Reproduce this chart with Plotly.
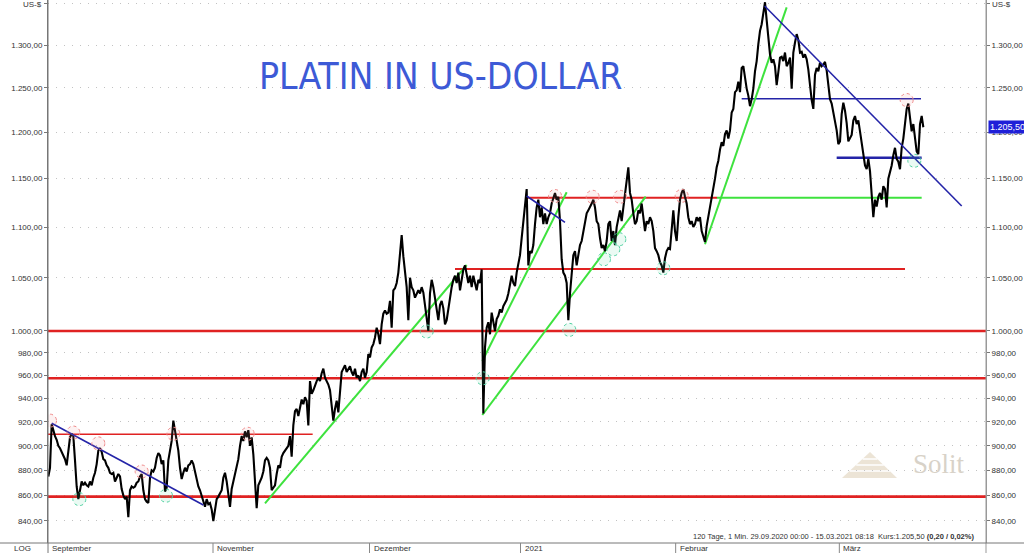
import numpy as np
import plotly.graph_objects as go

# ---------------- data ----------------
# platinum price, evenly spaced samples (index = sample slot)
price_part1 = [875,882,918,912,908,905,900,898,895,892,
               889,884,894,907,910,908,888,867,857,864,
               871,868,870,868,867,871,868,874,878,885,
               896,898,895,889,888,884,882,878,877,878,
               871,874,877,875,865,860,857,859,843,864,
               867,866,867,870,871,875,877,864,857,855,
               854,874,880,879,882,890,894,892,885,888,
               863,866,888,896,904,921,912,907,896,882,
               873,878,882,879,884,885,888,885,878,874,
               867,864,859,854,851,857,853,854,849,840,
               849,857,859,862,864,874,878,871,862,851,
               865,871,878,882,889,900,908,904,912,907,
               913,900,907,893,868,850,868,871,874,879,
               888,890,888,882,864,866,868,877,884,882]
price_part2 = [891,894,896,898,900,908,891,917,929,931,
               925,932,939,935,941,938,917,955,944,947,
               952,955,958,955,962,966,958,955,952,947,
               935,921,931,938,928,950,963,966,969,963,
               966,968,963,960,966,958,960,955,963,966,
               958,963,979,976,985,988,994,1003,997,988,
               1006,1016,1019,1016,1017,1028,1003,1038,1040,1045,
               1055,1075,1092,1071,1058,1041,1010,1050,1041,1038,
               1031,1035,1038,1035,1041,1036,1024,1010,1000,1035,
               1048,1041,1031,1019,1010,1024,1028,1021,1006,1010,
               1021,1028,1041,1048,1052,1045,1055,1038,1048,1058,
               1062,1055,1045,1052,1041,1052,1045,1038,1048,1045]
price_part3 = [1058,927,985,1003,1008,997,1017,1006,1000,1011,
               1014,1020,1017,1023,1026,1029,1035,1042,1052,1045,
               1042,1055,1065,1072,1089,1105,1120,1139,1062,1076,
               1074,1082,1103,1120,1128,1110,1120,1103,1114,1103,
               1110,1114,1124,1131,1135,1128,1131,1106,1068,1055,
               1052,1045,1010,1035,1056,1072,1076,1062,1072,1082,
               1086,1096,1106,1114,1117,1120,1124,1128,1120,1106,
               1103,1089,1079,1082,1076,1086,1103,1106,1086,1096,
               1082,1100,1110,1117,1106,1120,1131,1148,1162,1135,
               1128,1114,1103,1106,1117,1114,1124,1110,1096,1106,
               1103,1110,1106,1096,1079,1076,1072,1065,1062,1055,
               1069,1076,1079,1078,1103,1117,1096,1086,1110,1128,
               1135,1139,1131,1124,1110,1103,1106,1100,1103,1110,
               1106,1110]
price_part4 = [1096,1089,1085,1101,1110,1120,1131,1139,1150,1162,
               1169,1181,1189,1185,1198,1202,1193,1202,1222,1226,
               1245,1247,1257,1245,1273,1275,1261,1249,1241,1229,
               1237,1249,1269,1281,1301,1317,1325,1338,1352,1330,
               1310,1289,1279,1283,1275,1253,1268,1285,1286,1281,
               1291,1275,1279,1285,1249,1291,1303,1313,1306,1291,
               1292,1285,1289,1283,1271,1253,1236,1226,1265,1273,
               1269,1279,1275,1277,1280,1270,1249,1237,1232,1222,
               1215,1202,1187,1190,1220,1233,1224,1210,1190,1193]
price_part5 = [1197,1213,1218,1209,1213,1201,1190,1175,1164,1160,
               1171,1158,1128,1110,1128,1121,1131,1135,1128,1142,
               1139,1120,1150,1156,1164,1175,1183,1171,1168,1160,
               1183,1193,1209,1226,1232,1218,1201,1209,1193,1179,
               1176,1209,1218,1205.5]

# month labels of the time axis (slot positions)
month_labels = ["September", "November", "Dezember", "2021", "Februar", "März"]
month_pos = [0, 98.8, 192.7, 283.3, 376.4, 474.6]
x_range = [-0.2, 562.6]

# price axis
y_ticks = [840, 860, 880, 900, 920, 940, 960, 980, 1000, 1050, 1100, 1150, 1200, 1250, 1300, 1350]
y_ticktext = ["840,00", "860,00", "880,00", "900,00", "920,00", "940,00", "960,00", "980,00",
              "1.000,00", "1.050,00", "1.100,00", "1.150,00", "1.200,00", "1.250,00", "1.300,00", ""]
unit_label = "US-$"
unit_level = 1350
y_range = [823.2, 1354.8]

# horizontal red support/resistance levels across the full chart
red_full_levels = [1000, 957.5, 859]
# partial horizontal levels: start slot, end slot, level, width, colour
partial_start = [-0.2, 244, 287, 401.2, 416, 473]
partial_end = [158.6, 514, 401.2, 524, 523.6, 524]
partial_level = [909.6, 1058.5, 1130, 1130, 1237.5, 1172.2]
partial_width = [1.5, 2.2, 2.2, 2.2, 1.5, 2.5]
partial_color = ["red", "red", "red", "green", "blue", "blue"]

# trend lines: (slot0, price0, slot1, price1)
blue_trends = [(2.0, 918.8, 93.0, 852.4), (287, 1131.8, 310, 1104.8), (429.8, 1347.3, 548, 1121.5)]
green_trends = [(130, 853.7, 251, 1062.4), (260.4, 972.8, 311, 1135.7),
                (260.4, 925.8, 358.4, 1131.1), (394, 1082.8, 443, 1345.7)]

# marked highs / lows (slot, price)
high_marks = [(1, 921), (15, 911), (30, 902), (56, 879), (75, 910), (119.6, 910),
              (304, 1131.8), (326.6, 1131), (343, 1131), (380, 1132), (515, 1236)]
low_marks = [(18.6, 857), (70.6, 859.7), (227, 999.5), (260.6, 957.5), (312.6, 1001),
             (333.4, 1068), (339, 1077.8), (342.6, 1087.8), (369, 1059.2), (519.6, 1169)]

last_price_text = "1.205,50"
last_price = 1205.5
info_text = "120 Tage, 1 Min. 29.09.2020 00:00 - 15.03.2021 08:18  Kurs:1.205,50 <b>(0,20 / 0,02%)</b>"
title_text = "PLATIN IN US-DOLLAR"

# ---------------- figure ----------------
price = price_part1 + price_part2 + price_part3 + price_part4 + price_part5
slots = list(range(len(price)))

COL = {"red": "#e02222", "green": "#3ee23e", "blue": "#2424a8"}

H = 543.0  # plot area height in px
W = 938.0  # plot area width in px
slot_px = W / (x_range[1] - x_range[0])
ln_px = H / np.log(y_range[1] / y_range[0])

fig = go.Figure()

for lv in red_full_levels:
    fig.add_trace(go.Scatter(x=x_range, y=[lv, lv], mode="lines",
                             line=dict(color=COL["red"], width=2.6), hoverinfo="skip"))
for s, e, lv, w, c in zip(partial_start, partial_end, partial_level, partial_width, partial_color):
    fig.add_trace(go.Scatter(x=[s, e], y=[lv, lv], mode="lines",
                             line=dict(color=COL[c], width=w), hoverinfo="skip"))
for (a, pa, b, pb) in green_trends:
    fig.add_trace(go.Scatter(x=[a, b], y=[pa, pb], mode="lines",
                             line=dict(color=COL["green"], width=2), hoverinfo="skip"))

fig.add_trace(go.Scatter(x=slots, y=price, mode="lines",
                         line=dict(color="#000000", width=2.1), hoverinfo="skip"))

for (a, pa, b, pb) in blue_trends:
    fig.add_trace(go.Scatter(x=[a, b], y=[pa, pb], mode="lines",
                             line=dict(color=COL["blue"], width=1.6), hoverinfo="skip"))

fig.add_trace(go.Scatter(x=[0], y=[1000], yaxis="y2", mode="markers",
                         marker=dict(opacity=0), hoverinfo="skip"))

shapes = []
R = 6.5  # circle radius in px
dx = R / slot_px
fy = np.exp(R / ln_px)
for marks, lc, fc in [(high_marks, "#f08a8a", "rgba(240,140,140,0.12)"),
                      (low_marks, "#4fd0a0", "rgba(80,210,160,0.12)")]:
    for (sx, sp) in marks:
        shapes.append(dict(type="circle", xref="x", yref="y",
                           x0=sx - dx, x1=sx + dx, y0=sp / fy, y1=sp * fy,
                           line=dict(color=lc, width=1, dash="dot"),
                           fillcolor=fc, layer="above"))

below = -10.0 / H
shapes.append(dict(type="line", xref="paper", yref="paper", x0=0, x1=0, y0=below, y1=1,
                   line=dict(color="#777777", width=1)))
shapes.append(dict(type="line", xref="paper", yref="paper", x0=1, x1=1, y0=below, y1=1,
                   line=dict(color="#999999", width=1)))
shapes.append(dict(type="line", xref="paper", yref="paper", x0=-48 / W, x1=(1024 - 48) / W, y0=0, y1=0,
                   line=dict(color="#777777", width=1)))
for mp in month_pos[1:]:
    shapes.append(dict(type="line", xref="x", yref="paper", x0=mp, x1=mp, y0=below, y1=0,
                       line=dict(color="#888888", width=1)))


def px(X):
    return (X - 48) / W


def py(Y):
    return 1 - Y / H


# Solit logo (decoration)
shapes.append(dict(type="path", xref="paper", yref="paper",
                   path=f"M {px(870)} {py(452)} L {px(897)} {py(478)} L {px(842)} {py(478)} Z",
                   fillcolor="#ece4d6", line=dict(width=0), layer="below"))
for Yl, hw in [(459, 7.4), (465, 13.8), (471, 20.2)]:
    shapes.append(dict(type="line", xref="paper", yref="paper", x0=px(870 - hw), x1=px(870 + hw),
                       y0=py(Yl), y1=py(Yl), line=dict(color="#ffffff", width=1.5), layer="below"))

annotations = []
annotations.append(dict(text=title_text, xref="paper", yref="paper", x=px(440), y=py(77),
                        xanchor="center", yanchor="middle", showarrow=False,
                        font=dict(family="Liberation Sans Narrow, DejaVu Sans Condensed, Arial Narrow, sans-serif",
                                  size=37, color="#3d5ad6")))
for lab, mp in zip(month_labels, month_pos):
    annotations.append(dict(text=lab, xref="x", yref="paper", x=mp, y=py(548), xanchor="left",
                            yanchor="middle", xshift=2, showarrow=False,
                            font=dict(family="Liberation Sans, Arial", size=8, color="#333333")))
annotations.append(dict(text="LOG", xref="paper", yref="paper", x=px(22), y=py(548),
                        xanchor="center", yanchor="middle", showarrow=False,
                        font=dict(family="Liberation Sans, Arial", size=8, color="#333333")))
annotations.append(dict(text=info_text, xref="paper", yref="paper", x=px(976), y=py(536),
                        xanchor="right", yanchor="middle", showarrow=False,
                        font=dict(family="Liberation Sans, Arial", size=7.5, color="#333333")))
# unit labels at the top of both price axes
annotations.append(dict(text=unit_label, xref="paper", yref="y", x=0, y=np.log10(unit_level),
                        xanchor="right", yanchor="middle", xshift=-4, yshift=-1, showarrow=False,
                        font=dict(family="Liberation Sans, Arial", size=8, color="#333333")))
annotations.append(dict(text=unit_label, xref="paper", yref="y", x=1, y=np.log10(unit_level),
                        xanchor="left", yanchor="middle", xshift=4, yshift=-1, showarrow=False,
                        font=dict(family="Liberation Sans, Arial", size=8, color="#333333")))
annotations.append(dict(text=last_price_text, xref="paper", yref="y", x=1, y=np.log10(last_price),
                        xanchor="left", yanchor="middle", xshift=2, showarrow=False,
                        bgcolor="#1f1fd8", borderpad=1,
                        font=dict(family="Liberation Sans, Arial", size=9, color="#ffffff")))
annotations.append(dict(text="Solit", xref="paper", yref="paper", x=px(939), y=py(464),
                        xanchor="center", yanchor="middle", showarrow=False,
                        font=dict(family="Liberation Serif, DejaVu Serif, serif", size=27, color="#d8d2c8")))

yaxis_common = dict(type="log", range=[np.log10(y_range[0]), np.log10(y_range[1])],
                    tickmode="array", tickvals=y_ticks, ticktext=y_ticktext,
                    ticks="outside", ticklen=3, tickcolor="#777777",
                    tickfont=dict(family="Liberation Sans, Arial", size=8, color="#333333"),
                    zeroline=False, showline=True, fixedrange=True)

fig.update_layout(
    width=1024, height=553, autosize=False,
    margin=dict(l=48, r=38, t=0, b=10, pad=0),
    paper_bgcolor="white", plot_bgcolor="white",
    showlegend=False, hovermode=False,
    xaxis=dict(range=x_range, showgrid=False, zeroline=False, showticklabels=False, ticks="",
               showline=False, fixedrange=True),
    yaxis=dict(**yaxis_common, side="left", showgrid=True, gridcolor="#c2c2c2", gridwidth=1,
               griddash="1px,7px", linecolor="#777777"),
    yaxis2=dict(**yaxis_common, side="right", overlaying="y", showgrid=False, linecolor="#999999"),
    shapes=shapes, annotations=annotations,
)

fig.write_html("out.html", config={"displayModeBar": False},
               post_script="document.body.style.margin='0px';document.body.style.overflow='hidden';")
